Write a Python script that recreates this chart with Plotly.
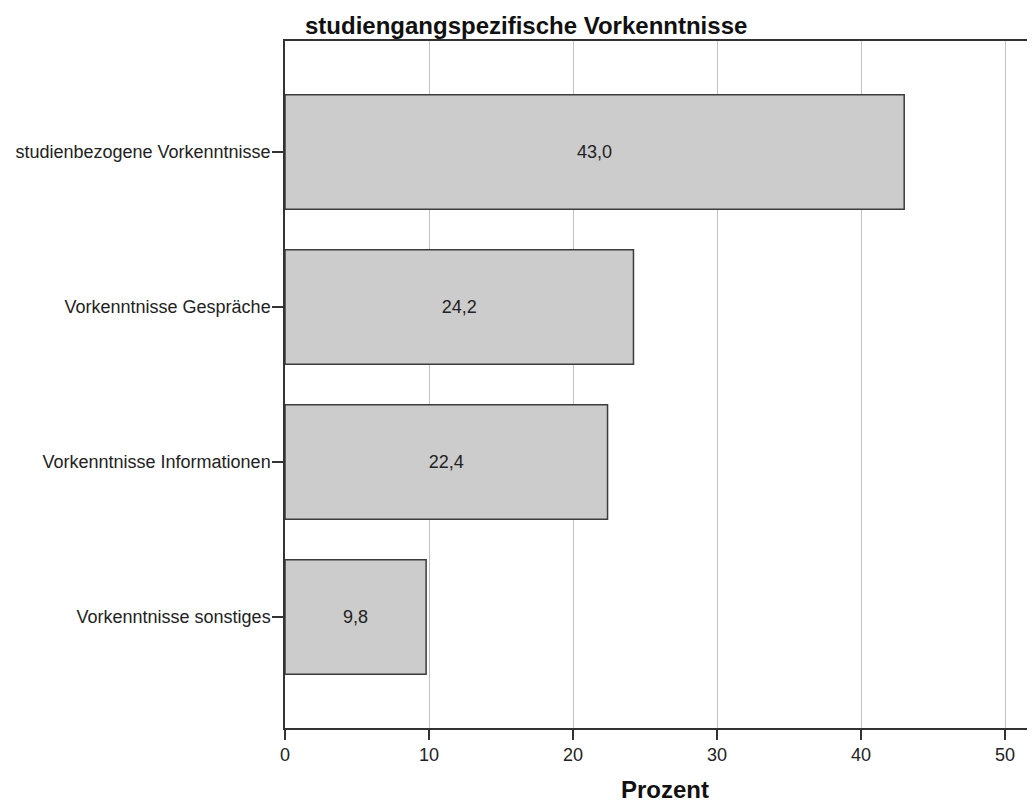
import plotly.graph_objects as go

# categories top to bottom and percentages
kategorien = ["studienbezogene Vorkenntnisse", "Vorkenntnisse Gespräche",
              "Vorkenntnisse Informationen", "Vorkenntnisse sonstiges"]
prozent = [43.0, 24.2, 22.4, 9.8]
x_ticks = [0, 10, 20, 30, 40, 50]

FONT = "Arial, Liberation Sans, sans-serif"

# the page body has an 8px margin, so the margins below are shifted by that
PLOT_L, PLOT_T, PLOT_B = 285, 41, 728
PLOT_H = PLOT_B - PLOT_T
PLOT_W = 1035 - PLOT_L

fig = go.Figure()

fig.add_trace(go.Bar(
    x=prozent,
    y=kategorien,
    orientation="h",
    marker=dict(color="#cccccc", line=dict(color="#3c3c3c", width=1.5)),
    texttemplate="%{x:.1f}",
    textposition="inside",
    insidetextanchor="middle",
    textfont=dict(family=FONT, size=18, color="#222222"),
    showlegend=False,
))

fig.update_layout(
    width=1035, height=807,
    margin=dict(l=PLOT_L - 8, r=8, t=PLOT_T - 8, b=807 + 8 - PLOT_B),
    paper_bgcolor="white", plot_bgcolor="white",
    separators=",.",
    bargap=0.26,
    font=dict(family=FONT, size=18, color="#222222"),
    xaxis=dict(
        range=[0, PLOT_W / 14.4], tickvals=x_ticks,
        showgrid=True, gridcolor="#c2c2c2", gridwidth=1,
        showline=True, linecolor="#333333", linewidth=1.5, mirror=True,
        ticks="outside", ticklen=10, tickwidth=1.5, tickcolor="#333333",
        tickfont=dict(size=18), zeroline=False,
    ),
    yaxis=dict(
        type="category", categoryorder="array", categoryarray=kategorien,
        range=[3.716, -0.716],
        showgrid=False, showline=True, linecolor="#333333", linewidth=1.5,
        ticks="outside", ticklen=11, tickwidth=1.5, tickcolor="#333333",
        tickfont=dict(size=18), ticklabelstandoff=-2,
    ),
    annotations=[
        dict(text="<b>studiengangspezifische Vorkenntnisse</b>",
             x=(526 - PLOT_L) / PLOT_W, y=1 + (PLOT_T - 40) / PLOT_H,
             xref="paper", yref="paper", xanchor="center", yanchor="bottom",
             showarrow=False, borderpad=0,
             font=dict(family=FONT, size=24, color="#111111")),
        dict(text="<b>Prozent</b>", x=(665 - PLOT_L) / 14.4,
             y=-(789 - PLOT_B) / PLOT_H, xref="x", yref="paper",
             xanchor="center", yanchor="middle", showarrow=False,
             font=dict(family=FONT, size=24, color="#111111")),
    ],
)

fig.write_html("out.html")
